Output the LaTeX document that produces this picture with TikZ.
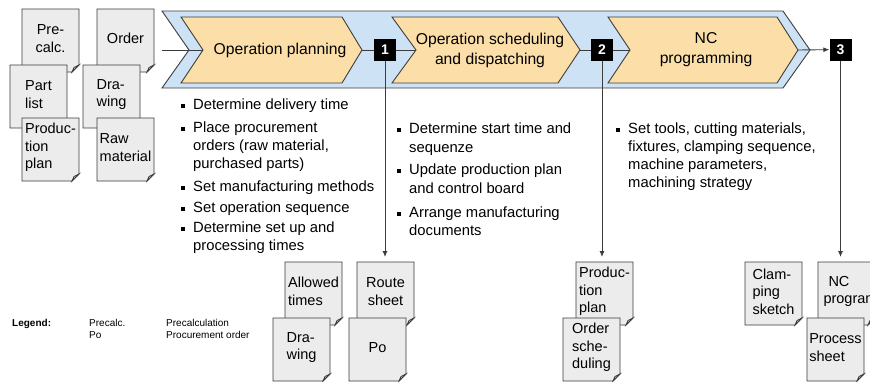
\documentclass[tikz,border=0pt]{standalone}
\usepackage{fontspec}
\setmainfont{Liberation Sans}
\usetikzlibrary{arrows.meta}
\definecolor{bandblue}{RGB}{205,227,245}
\definecolor{chevorange}{RGB}{252,223,168}
\definecolor{docfill}{RGB}{236,236,236}
\definecolor{linegray}{RGB}{60,60,60}
\newcommand{\mybul}{\llap{\rule[1pt]{4pt}{4pt}\hspace{8pt}}}
\newcommand{\docu}[5]{%
  \filldraw[docshape] (#2,#3) -- (#2+57,#3) -- (#2+57,#3+56) -- (#2+50,#3+63) -- (#2,#3+63) -- cycle;
  \filldraw[docshape] (#2+57,#3+56) -- (#2+50,#3+63) -- (#2+52,#3+58.5) -- cycle;
  \node[doctext,#4] (#1) at (#2+28.5,#3+29.5) {#5};}
\tikzset{
  conn/.style={draw=linegray, line width=0.9pt},
  arr/.style={conn, -{Latex[length=6pt,width=5pt]}},
  band/.style={fill=bandblue, draw=linegray, line width=0.9pt, line join=miter},
  chev/.style={fill=chevorange, draw=linegray, line width=0.9pt, line join=miter},
  chevtext/.style={inner sep=0pt, align=center, font=\fontsize{15.7}{20}\selectfont},
  numbox/.style={fill=black, text=white, minimum size=22pt, inner sep=0pt, font=\fontsize{14}{16}\selectfont\bfseries},
  docshape/.style={fill=docfill, draw=linegray, line width=0.8pt, line join=miter},
  doctext/.style={inner sep=0pt, align=center, font=\fontsize{14.5}{17.5}\selectfont},
  btxt/.style={anchor=base west, inner sep=0pt, font=\fontsize{14.8}{18}\selectfont},
  legtxt/.style={anchor=base west, inner sep=0pt, font=\fontsize{10}{12}\selectfont},
}
\begin{document}
\begin{tikzpicture}[x=1pt, y=-1pt]
\useasboundingbox (0,0) rectangle (870,381);
\clip (0,0) rectangle (870,381);
% band and chevrons
\filldraw[band] (162,11) -- (783,11) -- (810,50) -- (783,88) -- (162,88) -- (189,50) -- cycle;
\filldraw[chev] (181,17) -- (342,17) -- (362,50) -- (342,83) -- (181,83) -- (203,50) -- cycle;
\filldraw[chev] (392,17) -- (558,17) -- (580,50) -- (558,83) -- (392,83) -- (416,50) -- cycle;
\filldraw[chev] (608,17) -- (777,17) -- (798,50) -- (777,83) -- (608,83) -- (630,50) -- cycle;
\node[chevtext] (op1) at (280,50) {Operation planning};
\node[chevtext] (op2) at (490,50) {Operation scheduling\\and dispatching};
\node[chevtext] (op3) at (706,50) {NC\\programming};
\coordinate (start) at (162,50);
\coordinate (op1in) at (203,50);
\coordinate (op1out) at (362,50);
\coordinate (op2in) at (416,50);
\coordinate (op2out) at (580,50);
\coordinate (op3in) at (630,50);
\coordinate (op3out) at (798,50);
\node[numbox] (b1) at (385,50) {1};
\node[numbox] (b2) at (602,50) {2};
\node[numbox] (b3) at (840.5,49.5) {3};
\coordinate (e1) at (385,257);
\coordinate (e2) at (602,257);
\coordinate (e3) at (840.5,257);
\draw[conn] (start) -- (op1in);
\draw[conn] (op1out) -- (b1);
\draw[conn] (b1) -- (op2in);
\draw[conn] (op2out) -- (b2);
\draw[conn] (b2) -- (op3in);
\draw[arr] (op3out) -- (b3);
\draw[arr] (b1) -- (e1);
\draw[arr] (b2) -- (e2);
\draw[arr] (b3) -- (e3);
% input documents
\docu{precalc}{22}{9}{}{Pre-\\calc.}
\docu{order}{97}{9}{}{Order}
\docu{partlist}{10}{65}{align=left}{Part\\list}
\docu{drawin}{83}{65}{align=left}{Dra-\\wing}
\docu{prodin}{22}{118}{align=left}{Produc-\\tion\\plan}
\docu{rawmat}{97}{118}{align=left}{Raw\\material}
% output documents
\docu{allowed}{285}{262}{align=left}{Allowed\\times}
\docu{route}{357}{262}{}{Route\\sheet}
\docu{drawout}{273}{318}{align=left}{Dra-\\wing}
\docu{po}{349}{318}{}{Po}
\docu{prodout}{576}{262}{align=left}{Produc-\\tion\\plan}
\docu{ordsched}{563}{318}{align=left}{Order\\sche-\\duling}
\docu{clamp}{745}{262}{align=left}{Clam-\\ping\\sketch}
\docu{ncprog}{818}{262}{align=left, xshift=4pt}{\hspace{5pt}NC\\program}
\docu{procsheet}{807}{318}{align=left}{Process\\sheet}
% task lists
\node[btxt] (t1a) at (193,109) {\mybul Determine delivery time};
\node[btxt] (t1b) at (193,132) {\mybul Place procurement};
\node[btxt] (t1c) at (193,150) {orders (raw material,};
\node[btxt] (t1d) at (193,168) {purchased parts)};
\node[btxt] (t1e) at (193,191) {\mybul Set manufacturing methods};
\node[btxt] (t1f) at (193,212) {\mybul Set operation sequence};
\node[btxt] (t1g) at (193,232) {\mybul Determine set up and};
\node[btxt] (t1h) at (193,250) {processing times};
\node[btxt] (t2a) at (409,133) {\mybul Determine start time and};
\node[btxt] (t2b) at (409,152) {sequenze};
\node[btxt] (t2c) at (409,174) {\mybul Update production plan};
\node[btxt] (t2d) at (409,193) {and control board};
\node[btxt] (t2e) at (409,217) {\mybul Arrange manufacturing};
\node[btxt] (t2f) at (409,235) {documents};
\node[btxt] (t3a) at (628,133) {\mybul Set tools, cutting materials,};
\node[btxt] (t3b) at (628,151) {fixtures, clamping sequence,};
\node[btxt] (t3c) at (628,169) {machine parameters,};
\node[btxt] (t3d) at (628,187) {machining strategy};
% legend
\node[legtxt, font=\fontsize{10}{12}\selectfont\bfseries] (leg) at (12,326) {Legend:};
\node[legtxt] (lk1) at (89,326) {Precalc.};
\node[legtxt] (lk2) at (89,338) {Po};
\node[legtxt] (lv1) at (166,326) {Precalculation};
\node[legtxt] (lv2) at (166,338) {Procurement order};
\end{tikzpicture}
\end{document}
